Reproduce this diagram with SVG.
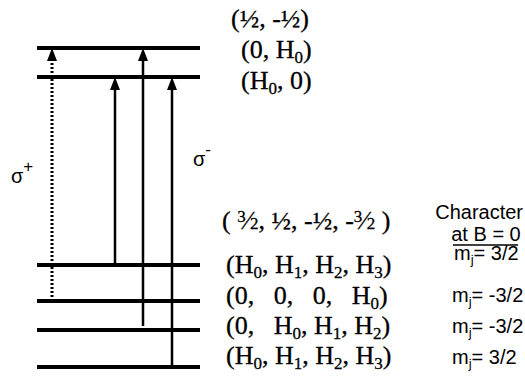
<svg xmlns="http://www.w3.org/2000/svg" width="525" height="386" viewBox="0 0 525 386">
<style>
.lvl{stroke:#000;stroke-width:4;fill:none}
.arr{stroke:#000;stroke-width:2.5;fill:none}
.dot{stroke:#000;stroke-width:3;fill:none;stroke-dasharray:2,2}
.ser{font-family:"Liberation Serif","Times New Roman",serif;font-size:26px;fill:#000;stroke:#000;stroke-width:0.3}
.san{font-family:"Liberation Sans",Arial,sans-serif;font-size:20px;fill:#000}
.sub{font-size:17px}
.js{font-size:13px}
</style>
<rect width="525" height="386" fill="#fff"/>
<g id="levels">
<line class="lvl" x1="37" y1="48" x2="200" y2="48"/>
<line class="lvl" x1="37" y1="77" x2="200" y2="77"/>
<line class="lvl" x1="37" y1="265" x2="200" y2="265"/>
<line class="lvl" x1="37" y1="301" x2="200" y2="301"/>
<line class="lvl" x1="37" y1="330" x2="200" y2="330"/>
<line class="lvl" x1="37" y1="367" x2="200" y2="367"/>
</g>
<g id="connectors">
<path class="dot" d="M52,301 V60"/>
<path d="M52,48 L57,61 L47,61 Z" fill="#000"/>
<path class="arr" d="M115,265 V89"/>
<path d="M115,77 L120,90 L110,90 Z" fill="#000"/>
<path class="arr" d="M143,326 V60"/>
<path d="M143,48 L148,61 L138,61 Z" fill="#000"/>
<path class="arr" d="M172,367 V89"/>
<path d="M172,77 L177,90 L167,90 Z" fill="#000"/>
</g>
<g id="sigma-plus"><text class="san" x="11" y="183" font-size="29">σ<tspan font-size="17" dy="-11">+</tspan></text></g>
<g id="sigma-minus"><text class="san" x="193" y="166" font-size="29">σ<tspan font-size="17" dy="-11">-</tspan></text></g>
<g id="upper-labels">
<text class="ser" x="231" y="27">(½, -½)</text>
<text class="ser" x="241" y="58">(0, H<tspan class="sub" dy="5">0</tspan><tspan dy="-5">)</tspan></text>
<text class="ser" x="241" y="89">(H<tspan class="sub" dy="5">0</tspan><tspan dy="-5">, 0)</tspan></text>
</g>
<g id="lower-labels">
<text class="ser" x="222" y="229">( <tspan class="sub" dy="-7">3</tspan><tspan dy="7">⁄</tspan><tspan class="sub">2</tspan>, ½, -½, -<tspan class="sub" dy="-7">3</tspan><tspan dy="7">⁄</tspan><tspan class="sub">2</tspan> )</text>
<text class="ser" x="226" y="273">(H<tspan class="sub" dy="5">0</tspan><tspan dy="-5">, H</tspan><tspan class="sub" dy="5">1</tspan><tspan dy="-5">, H</tspan><tspan class="sub" dy="5">2</tspan><tspan dy="-5">, H</tspan><tspan class="sub" dy="5">3</tspan><tspan dy="-5">)</tspan></text>
<text class="ser" x="226" y="304" xml:space="preserve">(0,   0,   0,   H<tspan class="sub" dy="5">0</tspan><tspan dy="-5">)</tspan></text>
<text class="ser" x="226" y="334" xml:space="preserve">(0,   H<tspan class="sub" dy="5">0</tspan><tspan dy="-5">, H</tspan><tspan class="sub" dy="5">1</tspan><tspan dy="-5">, H</tspan><tspan class="sub" dy="5">2</tspan><tspan dy="-5">)</tspan></text>
<text class="ser" x="226" y="364">(H<tspan class="sub" dy="5">0</tspan><tspan dy="-5">, H</tspan><tspan class="sub" dy="5">1</tspan><tspan dy="-5">, H</tspan><tspan class="sub" dy="5">2</tspan><tspan dy="-5">, H</tspan><tspan class="sub" dy="5">3</tspan><tspan dy="-5">)</tspan></text>
</g>
<g id="character-column">
<text class="san" x="523" y="219" text-anchor="end">Character</text>
<text class="san" x="486" y="241" text-anchor="middle">at B = 0</text>
<line x1="453" y1="245" x2="518" y2="245" stroke="#000" stroke-width="1.5"/>
<text class="san" x="454" y="260">m<tspan class="js" dy="4">j</tspan><tspan dy="-4">= 3/2</tspan></text>
<text class="san" x="452" y="302">m<tspan class="js" dy="4">j</tspan><tspan dy="-4">= -3/2</tspan></text>
<text class="san" x="452" y="333">m<tspan class="js" dy="4">j</tspan><tspan dy="-4">= -3/2</tspan></text>
<text class="san" x="452" y="364">m<tspan class="js" dy="4">j</tspan><tspan dy="-4">= 3/2</tspan></text>
</g>
</svg>
